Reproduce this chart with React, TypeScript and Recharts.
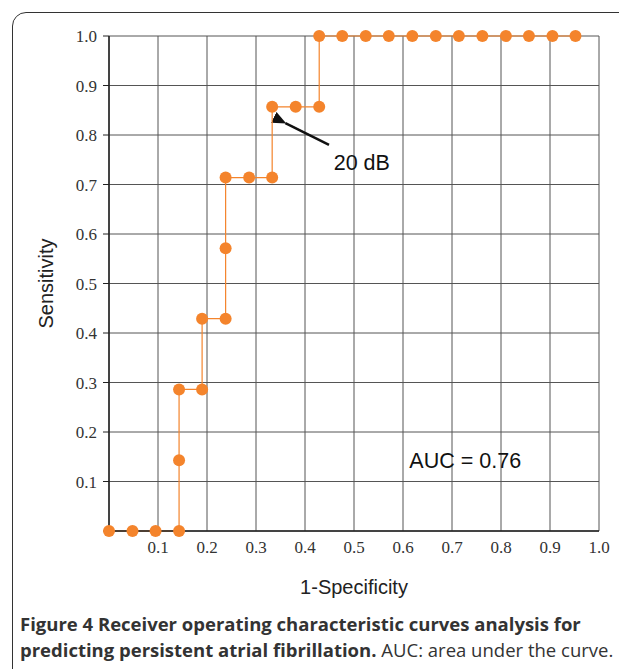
import React from "react";
import { LineChart, Line, XAxis, YAxis, CartesianGrid, ReferenceLine, ReferenceDot } from "recharts";

const fpr = [0, 0.048, 0.095, 0.143, 0.143, 0.143, 0.19, 0.19, 0.238, 0.238, 0.238, 0.286, 0.333, 0.333, 0.381, 0.429, 0.429, 0.476, 0.524, 0.571, 0.619, 0.667, 0.714, 0.762, 0.81, 0.857, 0.905, 0.952];
const tpr = [0, 0, 0, 0, 0.143, 0.286, 0.286, 0.429, 0.429, 0.571, 0.714, 0.714, 0.714, 0.857, 0.857, 0.857, 1, 1, 1, 1, 1, 1, 1, 1, 1, 1, 1, 1];
const xTicks = [0, 0.1, 0.2, 0.3, 0.4, 0.5, 0.6, 0.7, 0.8, 0.9, 1.0];
const yTicks = [0, 0.1, 0.2, 0.3, 0.4, 0.5, 0.6, 0.7, 0.8, 0.9, 1.0];
const data = fpr.map((x, i) => ({ x, y: tpr[i] }));

const ORANGE = "#f4842c";
const tickStyle = { fontFamily: "Liberation Serif, serif", fontSize: 17, fill: "#333" };
const sans = { fontFamily: "Liberation Sans, Arial", fontSize: 21.5, fill: "#111" };

export default function App() {
  return (
    <div style={{ position: "absolute", left: 0, top: 0, width: 619, height: 669, background: "#fff", overflow: "hidden" }}>
      <div style={{ position: "absolute", left: 12, top: 12, width: 640, height: 700, border: "1.5px solid #333", borderRadius: 14 }} />
      <LineChart width={619} height={600} data={data} margin={{ left: 0, top: 36, right: 20, bottom: 0 }} style={{ position: "absolute", left: 0, top: 0 }}>
        <defs>
          <marker id="ah" markerWidth="14" markerHeight="12" refX="1" refY="6" orient="auto-start-reverse" markerUnits="userSpaceOnUse" viewBox="0 0 14 12">
            <path d="M0,6 L14,0 L14,12 Z" fill="#111" />
          </marker>
        </defs>
        <CartesianGrid stroke="#555" strokeWidth={1} />
        <XAxis type="number" dataKey="x" domain={[0, 1]} ticks={xTicks} tickFormatter={(v) => (v === 0 ? "" : v.toFixed(1))} tickLine={false} axisLine={{ stroke: "#222", strokeWidth: 1.5 }} tick={tickStyle} tickMargin={4} height={69}
          label={{ value: "1-Specificity", position: "insideBottom", offset: 0, dy: -6, style: { ...sans, fontSize: 20, fill: "#222" } }} />
        <YAxis type="number" dataKey="y" domain={[0, 1]} ticks={yTicks} tickFormatter={(v) => (v === 0 ? "" : v.toFixed(1))} tickSize={6} tickLine={{ stroke: "#222" }} axisLine={{ stroke: "#222", strokeWidth: 1.5 }} tick={tickStyle} tickMargin={6} width={109}
          label={{ value: "Sensitivity", angle: -90, position: "insideLeft", offset: 46, style: { ...sans, fontSize: 20, fill: "#222", textAnchor: "middle" } }} />
        <ReferenceLine segment={[{ x: 0.449, y: 0.78 }, { x: 0.36, y: 0.824 }]} stroke="#111" strokeWidth={2.5} markerEnd="url(#ah)" />
        <ReferenceDot x={0.516} y={0.745} r={0} label={{ value: "20 dB", style: sans }} />
        <ReferenceDot x={0.727} y={0.143} r={0} label={{ value: "AUC = 0.76", style: sans }} />
        <Line dataKey="y" stroke={ORANGE} strokeWidth={1.2} dot={{ r: 6, fill: ORANGE, stroke: "none" }} isAnimationActive={false} />
      </LineChart>
      <div style={{ position: "absolute", left: 20, top: 611, fontFamily: "Open Sans, sans-serif", fontSize: 18.5, lineHeight: "26px", color: "#333", whiteSpace: "nowrap" }}>
        <b>Figure 4 Receiver operating characteristic curves analysis for</b><br />
        <b>predicting persistent atrial fibrillation.</b> AUC: area under the curve.
      </div>
    </div>
  );
}
